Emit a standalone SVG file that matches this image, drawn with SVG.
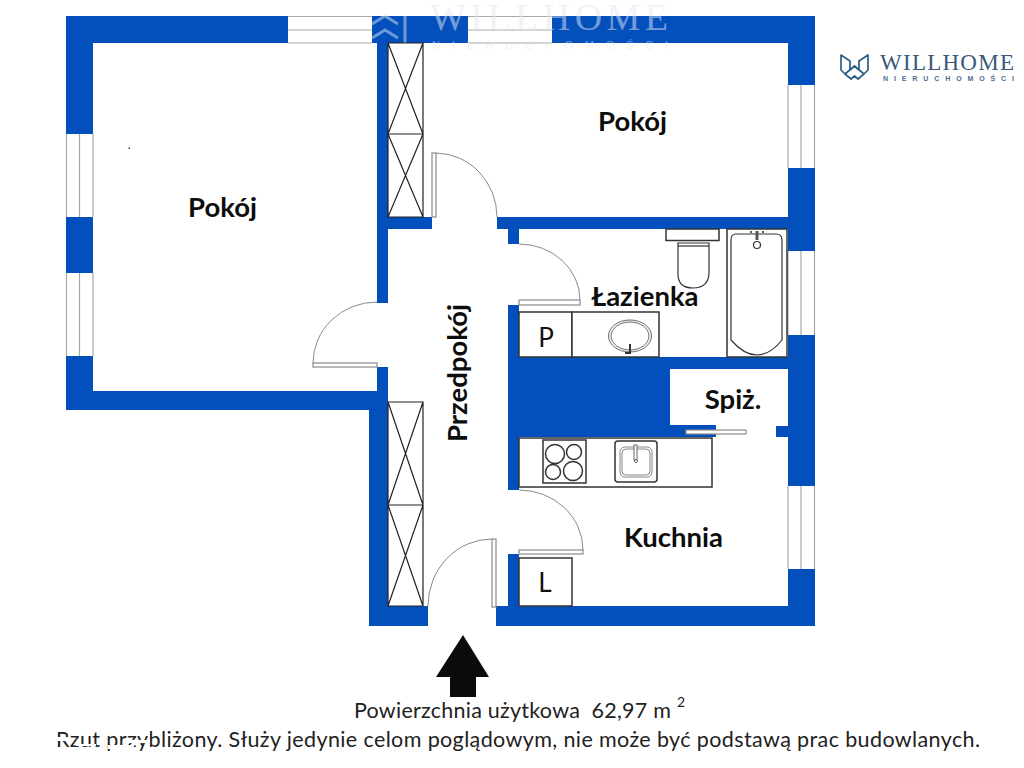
<svg xmlns="http://www.w3.org/2000/svg" width="1024" height="768" viewBox="0 0 1024 768">
<defs>
<style>
.w{fill:#0350bd}
.win{fill:#fff;stroke:none}
.wl{fill:none;stroke:#a8a8a8;stroke-width:1.2}
.door{fill:none;stroke:#8a8a8a;stroke-width:1}
.leaf{fill:#fff;stroke:#8a8a8a;stroke-width:1.2}
.fx{fill:#fff;stroke:#333;stroke-width:1.5}
.thin{fill:none;stroke:#333;stroke-width:1.2}
.x{fill:none;stroke:#222;stroke-width:1.2}
.lab{font-family:Lato,"Open Sans",sans-serif;font-weight:700;font-size:27.500px;fill:#0d0d0d}
.sym{font-family:Lato,"Open Sans",sans-serif;font-size:26px;fill:#111}
.cap{font-family:Lato,"Open Sans",sans-serif;font-size:21.500px;fill:#222}
</style>
</defs>
<rect width="1024" height="768" fill="#fff"/>
<g id="walls">
<rect class="w" x="66" y="16" width="749" height="27"/>
<rect class="w" x="66" y="16" width="27" height="394"/>
<rect class="w" x="66" y="391" width="322" height="19"/>
<rect class="w" x="377" y="43" width="11" height="260"/>
<rect class="w" x="377" y="367" width="11" height="43"/>
<rect class="w" x="369" y="402" width="19" height="224"/>
<rect class="w" x="788" y="16" width="27" height="610"/>
<rect class="w" x="388" y="217" width="44" height="12"/>
<rect class="w" x="497" y="217" width="291" height="12"/>
<rect class="w" x="508" y="229" width="11" height="15"/>
<rect class="w" x="508" y="305" width="11" height="185"/>
<rect class="w" x="519" y="357" width="269" height="12"/>
<rect class="w" x="519" y="369" width="151" height="68"/>
<rect class="w" x="670" y="425" width="46" height="12"/>
<rect class="w" x="776" y="426" width="12" height="11"/>
<rect class="w" x="508" y="554" width="11" height="52"/>
<rect class="w" x="369" y="606" width="59" height="20"/>
<rect class="w" x="496" y="606" width="319" height="20"/>
</g>
<g id="windows">
<rect class="win" x="288" y="16" width="84" height="27"/><path class="wl" d="M288 16.500H372M288 30H372M288 43H372"/>
<rect class="win" x="468" y="16" width="84" height="27"/><path class="wl" d="M468 16.500H552M468 30H552M468 43H552"/>
<rect class="win" x="66" y="134" width="27" height="83"/><path class="wl" d="M66.500 134V217M79.500 134V217M93 134V217"/>
<rect class="win" x="66" y="273" width="27" height="83"/><path class="wl" d="M66.500 273V356M79.500 273V356M93 273V356"/>
<rect class="win" x="788" y="85" width="27" height="83"/><path class="wl" d="M788 85V168M801 85V168M814.500 85V168"/>
<rect class="win" x="788" y="251" width="27" height="84"/><path class="wl" d="M788 251V335M801 251V335M814.500 251V335"/>
<rect class="win" x="788" y="486" width="27" height="83"/><path class="wl" d="M788 486V569M801 486V569M814.500 486V569"/>
</g>
<g id="watermark" opacity="0.5">
<path d="M372 24L385 16L398 24M372 38L385 30L398 38M405 16V43" fill="none" stroke="#dbe4f5" stroke-width="3"/>
<text x="430" y="30" font-family="Liberation Serif,serif" font-size="38" fill="#e2e8f3" textLength="238">WILLHOME</text>
<text x="432" y="49" font-family="Liberation Sans,sans-serif" font-size="11" fill="#e2e8f3" textLength="236">NIERUCHOMOŚCI</text>
</g>
<g id="wardrobes">
<path class="x" d="M388 43H423V217H388ZM388 134H423M388 43L423 134M423 43L388 134M388 134L423 217M423 134L388 217"/>
<path class="x" d="M388 402H423V606H388ZM388 505H423M388 402L423 505M423 402L388 505M388 505L423 606M423 505L388 606"/>
</g>
<g id="doors">
<rect class="leaf" x="432" y="153" width="4" height="64"/><path class="door" d="M436 153A62 64 0 0 1 497 217"/>
<rect class="leaf" x="313" y="363" width="64" height="4"/><path class="door" d="M377 302A64 61 0 0 0 313 363"/>
<rect class="leaf" x="519" y="300" width="61" height="5"/><path class="door" d="M519 244A61 56 0 0 1 580 300"/>
<rect class="leaf" x="519" y="550" width="64" height="4"/><path class="door" d="M519 490A64 60 0 0 1 583 550"/>
<rect class="leaf" x="492" y="539" width="4" height="68"/><path class="door" d="M492 539A64 67 0 0 0 428 606"/>
<rect class="leaf" x="686" y="430" width="60" height="4"/>
</g>
<g id="bathroom">
<rect class="fx" x="519" y="312" width="53" height="45"/>
<rect class="fx" x="572" y="312" width="87" height="45"/>
<ellipse cx="630" cy="336" rx="21.500" ry="16" fill="none" stroke="#666"/>
<ellipse cx="630" cy="336" rx="19" ry="14" fill="none" stroke="#666"/>
<path d="M630 344v9h-5" fill="none" stroke="#333" stroke-width="2"/>
<rect class="fx" x="666" y="229" width="53" height="11.500" stroke-width="1.200"/>
<path class="thin" d="M678 243H709V272Q709 288 693 288T678 272Z"/>
<line class="thin" x1="678" y1="246" x2="709" y2="246"/>
<rect class="fx" x="727" y="229" width="60" height="128"/>
<path class="thin" d="M736 234H776Q782 234 782 240V340Q770 355 757 355T731 340V240Q731 234 736 234Z"/>
<circle class="thin" cx="757" cy="245" r="3.500"/>
<rect x="755.500" y="231" width="3" height="9" fill="#555"/>
<circle cx="751" cy="232" r="1" fill="#222"/><circle cx="763" cy="232" r="1" fill="#222"/>
</g>
<g id="kitchen">
<rect class="fx" x="519" y="438" width="193" height="49"/>
<rect class="fx" x="543" y="440" width="43" height="43"/>
<circle class="fx" cx="555" cy="454" r="9.500"/><circle class="fx" cx="574" cy="452" r="7.500"/>
<circle class="fx" cx="553" cy="472" r="7.500"/><circle class="fx" cx="573" cy="471" r="9.500"/>
<rect class="fx" x="615" y="441" width="42" height="41" rx="3"/>
<rect x="620" y="447" width="32" height="30" rx="5" fill="none" stroke="#888"/>
<rect x="622" y="449" width="28" height="26" rx="4" fill="none" stroke="#888"/>
<rect x="634" y="445" width="3" height="15" fill="#fff" stroke="#666"/>
<circle cx="636" cy="461" r="1.500" fill="#fff" stroke="#666"/>
<rect class="fx" x="519" y="558" width="53" height="48"/>
</g>
<g id="labels">
<text class="lab" x="222.500" y="217" text-anchor="middle">Pokój</text>
<text class="lab" x="632.500" y="131" text-anchor="middle">Pokój</text>
<text class="lab" x="645" y="306" text-anchor="middle">Łazienka</text>
<text class="lab" x="733" y="409" text-anchor="middle">Spiż.</text>
<text class="lab" x="673.500" y="547" text-anchor="middle">Kuchnia</text>
<text class="lab" transform="translate(467 373) rotate(-90)" text-anchor="middle">Przedpokój</text>
<text class="sym" x="546" y="347" text-anchor="middle">P</text>
<text class="sym" x="545" y="592" text-anchor="middle">L</text>
</g>
<rect id="dot" x="128.500" y="147.500" width="1.500" height="1.500" fill="#444"/>
<path id="entry-arrow" d="M463 635L489 677H476V697H450V677H436Z" fill="#0b0b0b"/>
<g id="logo">
<path d="M841 55L850 61V70L854.500 66L859 70V61L868 55V70L864 74L854.500 66L845 74L841 70ZM845 74L851 79L854.500 76L858 79L864 74" fill="none" stroke="#2b5f86" stroke-width="1.700" stroke-linejoin="round"/>
<text x="880" y="70" font-family="Liberation Serif,serif" font-size="23" fill="#3a5878" textLength="134">WILLHOME</text>
<text x="883" y="81" font-family="Liberation Sans,sans-serif" font-weight="700" font-size="7" fill="#4a6c8f" textLength="131">NIERUCHOMOŚCI</text>
</g>
<g id="caption">
<text class="cap" x="354" y="718" textLength="317" xml:space="preserve">Powierzchnia użytkowa  62,97 m</text>
<text class="cap" x="677" y="707" style="font-size:14px">2</text>
<text class="cap" x="56" y="747" textLength="924">Rzut przybliżony. Służy jedynie celom poglądowym, nie może być podstawą prac budowlanych.</text>
<path d="M56 737H68V741H56ZM76 744H96V746H76ZM106 730H126V735H106ZM108 745H134V749H108ZM128 740H150V743H128ZM140 730H150V734H140Z" fill="#fff"/>
</g>
</svg>
